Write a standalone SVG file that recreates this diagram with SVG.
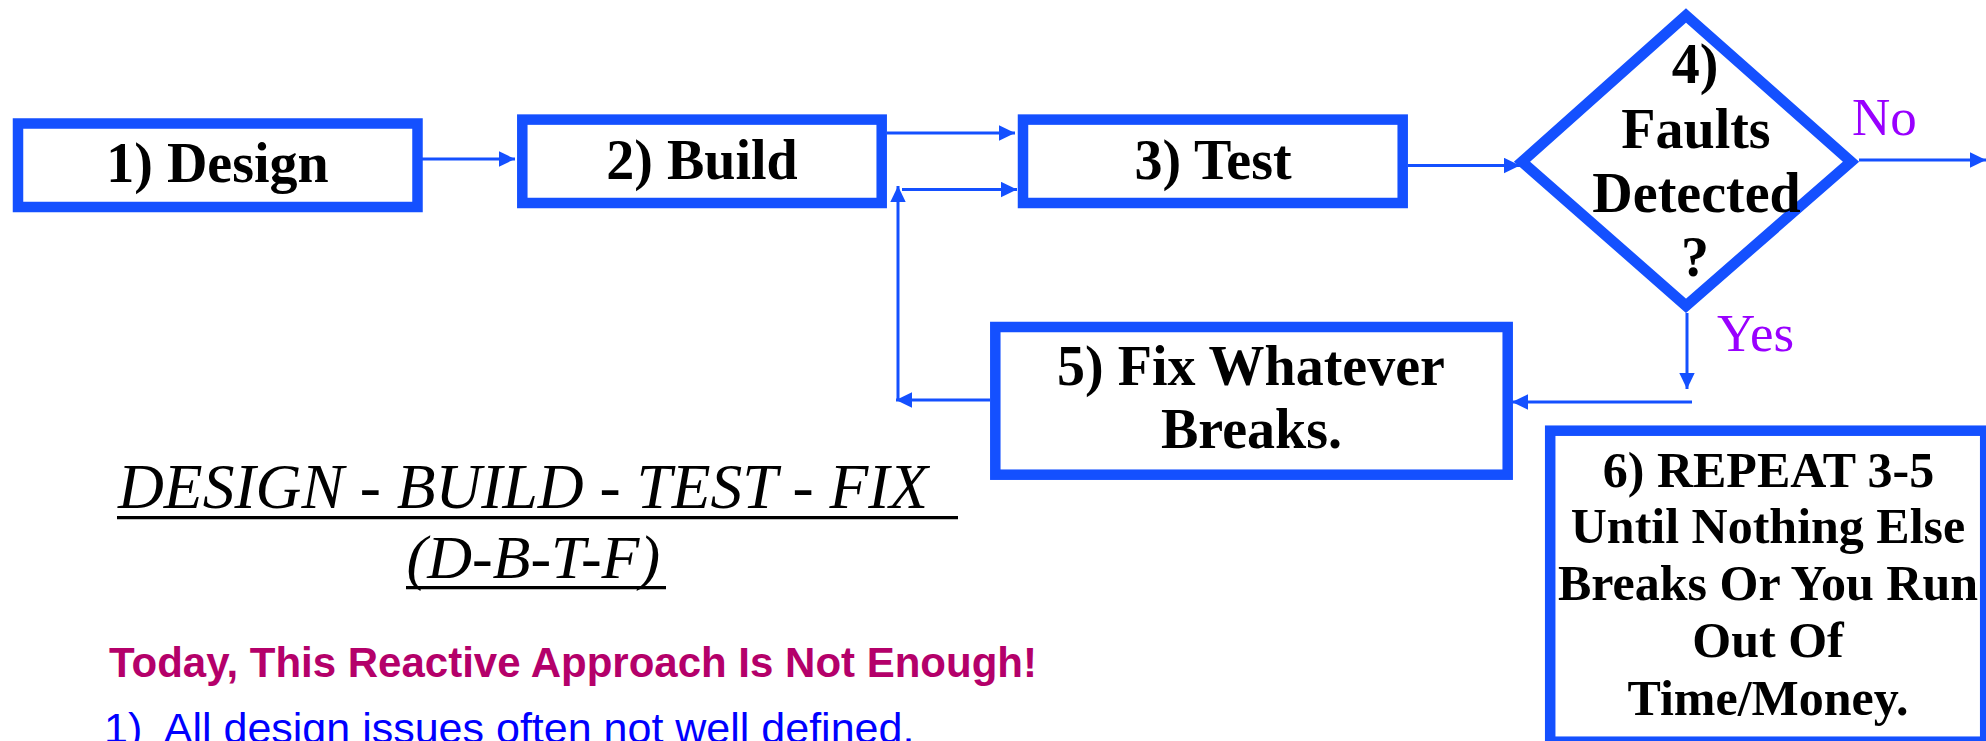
<svg xmlns="http://www.w3.org/2000/svg" width="1986" height="741" viewBox="0 0 1986 741">
<defs>
<style>
.box{fill:#ffffff;stroke:#1450FF;stroke-width:10.5;}
.dia{fill:#ffffff;stroke:#1450FF;stroke-width:10.8;stroke-linejoin:miter;stroke-miterlimit:10;}
.con{stroke:#1450FF;stroke-width:3;fill:none;}
.nt{font-family:"Liberation Serif","Times New Roman",serif;font-weight:bold;font-size:56px;fill:#000000;text-anchor:middle;}
.nt6{font-family:"Liberation Serif","Times New Roman",serif;font-weight:bold;font-size:50px;fill:#000000;text-anchor:middle;}
.lbl{font-family:"Liberation Serif","Times New Roman",serif;font-size:53px;fill:#9900FF;}
.ttl{font-family:"Liberation Serif","Times New Roman",serif;font-style:italic;font-size:62px;fill:#000000;}
.ul{stroke:#000000;stroke-width:3.3;}
.warn{font-family:"Liberation Sans",Arial,sans-serif;font-weight:bold;font-size:42px;fill:#B4006A;}
.item{font-family:"Liberation Sans",Arial,sans-serif;font-size:43px;fill:#0000FF;}
</style>
<marker id="ah" markerUnits="userSpaceOnUse" markerWidth="17" markerHeight="17" refX="16" refY="7.7" orient="auto">
<path d="M0,0 L16,7.7 L0,15.4 z" fill="#1450FF"/>
</marker>
</defs>
<g id="connectors">
<line class="con" x1="422" y1="159" x2="515" y2="159" marker-end="url(#ah)"/>
<line class="con" x1="887" y1="133" x2="1015" y2="133" marker-end="url(#ah)"/>
<line class="con" x1="990" y1="400" x2="896" y2="400" marker-end="url(#ah)"/>
<line class="con" x1="898" y1="400" x2="898" y2="186" marker-end="url(#ah)"/>
<line class="con" x1="902" y1="189.5" x2="1017" y2="189.5" marker-end="url(#ah)"/>
<line class="con" x1="1408" y1="165.5" x2="1520" y2="165.5" marker-end="url(#ah)"/>
<line class="con" x1="1859" y1="160" x2="1986" y2="160" marker-end="url(#ah)"/>
<line class="con" x1="1687" y1="313" x2="1687" y2="389" marker-end="url(#ah)"/>
<line class="con" x1="1692" y1="402" x2="1512" y2="402" marker-end="url(#ah)"/>
</g>
<g id="node1">
<rect class="box" x="18" y="123.5" width="399.5" height="83.5"/>
<text class="nt" x="217.5" y="181.5">1) Design</text>
</g>
<g id="node2">
<rect class="box" x="522.3" y="119.6" width="359.4" height="83.4"/>
<text class="nt" x="702" y="179.3">2) Build</text>
</g>
<g id="node3">
<rect class="box" x="1023" y="119.6" width="379.7" height="83.4"/>
<text class="nt" x="1213" y="179.3">3) Test</text>
</g>
<g id="node4">
<polygon class="dia" points="1686,15.5 1851,161.7 1686,305.8 1522,161.7"/>
<text class="nt" x="1695" y="83.3">4)</text>
<text class="nt" x="1696" y="148.3">Faults</text>
<text class="nt" x="1696.5" y="211.7">Detected</text>
<text class="nt" x="1695" y="276">?</text>
</g>
<g id="label-no">
<text class="lbl" x="1852" y="135">No</text>
</g>
<g id="label-yes">
<text class="lbl" x="1717" y="350.7">Yes</text>
</g>
<g id="node5">
<rect class="box" x="995.3" y="327" width="512.4" height="147.7"/>
<text class="nt" x="1251" y="385">5) Fix Whatever</text>
<text class="nt" x="1251.5" y="448.3">Breaks.</text>
</g>
<g id="node6">
<rect class="box" x="1550.2" y="430.7" width="435" height="311"/>
<text class="nt6" x="1768.5" y="486.7">6) REPEAT 3-5</text>
<text class="nt6" x="1768" y="543.3">Until Nothing Else</text>
<text class="nt6" x="1768" y="600">Breaks Or You Run</text>
<text class="nt6" x="1768" y="656.7">Out Of</text>
<text class="nt6" x="1768" y="715">Time/Money.</text>
</g>
<g id="title">
<text class="ttl" x="118" y="508.3" style="font-size:63.5px">DESIGN - BUILD - TEST - FIX</text>
<line class="ul" x1="117" y1="517.7" x2="958" y2="517.7"/>
<text class="ttl" x="406.5" y="578">(D-B-T-F)</text>
<line class="ul" x1="406" y1="587.7" x2="666" y2="587.7"/>
</g>
<g id="notes">
<text class="warn" x="109" y="676.7">Today, This Reactive Approach Is Not Enough!</text>
<text class="item" x="104" y="743" xml:space="preserve">1)  All design issues often not well defined.</text>
</g>
</svg>
